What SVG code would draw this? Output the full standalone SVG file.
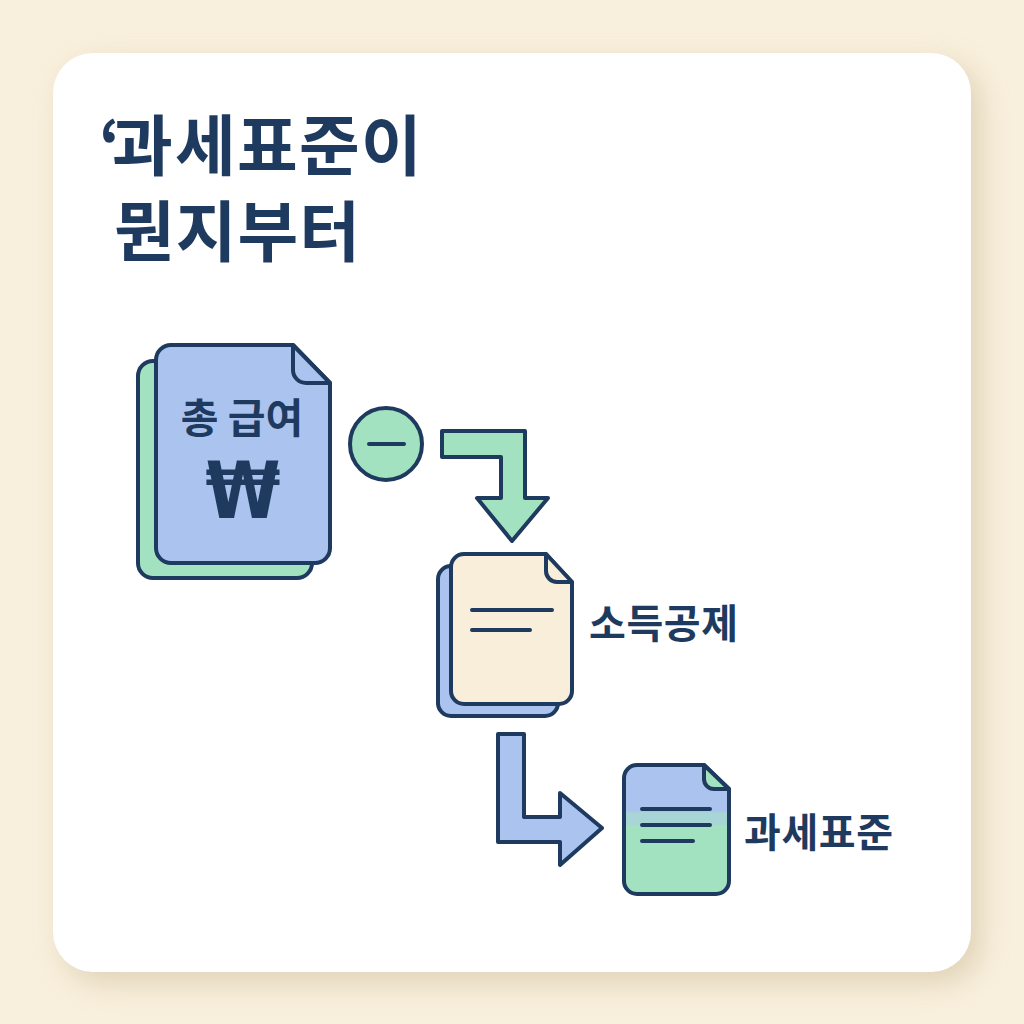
<svg xmlns="http://www.w3.org/2000/svg" width="1024" height="1024" viewBox="0 0 1024 1024">
<style>
text{font-family:"Noto Sans CJK KR","Noto Sans",sans-serif;fill:#1f3a5f;font-weight:700}
.o{stroke:#1f3a5f;stroke-width:4;stroke-linejoin:round;stroke-linecap:round}
.l{fill:none;stroke:#1f3a5f;stroke-width:4;stroke-linecap:round}
.b{fill:#aac4ef}.g{fill:#a3e2c1}.c{fill:#f8eed9}
</style>
<defs>
<filter id="s" x="-10%" y="-10%" width="120%" height="120%"><feGaussianBlur stdDeviation="14"/></filter>
<linearGradient id="split" x1="0" y1="765" x2="0" y2="894" gradientUnits="userSpaceOnUse">
<stop offset="0.36" stop-color="#aac4ef"/><stop offset="0.37" stop-color="#a8d6d6"/><stop offset="0.46" stop-color="#a8d6d6"/><stop offset="0.47" stop-color="#a3e2c1"/>
</linearGradient>
</defs>
<rect width="1024" height="1024" fill="#f8efdc"/>
<rect x="63" y="64" width="918" height="919" rx="40" fill="#d3c5a4" opacity=".65" filter="url(#s)"/>
<rect x="53" y="53" width="918" height="919" rx="40" fill="#fff"/>
<g id="title">
<text x="99 112 175 237 299 361" y="170" font-size="66">‘과세표준이</text>
<text x="114" y="256" font-size="66" textLength="246" lengthAdjust="spacing">뭔지부터</text>
</g>
<g id="connectors">
<path class="o g" d="M442 431H525V498H548L512 541L477 498H501V457H442Z"/>
<path class="o b" d="M498 734H524V817H560V793L602 828L560 865V842H498Z"/>
</g>
<g id="node-total">
<rect class="o g" x="138" y="361" width="174" height="217" rx="15"/>
<path class="o b" d="M171 345H293L330 383V548a15 15 0 0 1-15 15H171a15 15 0 0 1-15-15V360a15 15 0 0 1 15-15Z"/>
<path class="o b" d="M293 345V370a13 13 0 0 0 13 13H330Z"/>
<text x="242" y="433" font-size="41" text-anchor="middle">총 급여</text>
<text transform="translate(243 518) scale(1 1.16)" font-size="68" text-anchor="middle" style="font-family:'DejaVu Sans',sans-serif">₩</text>
</g>
<g id="node-minus">
<circle class="o g" cx="386" cy="444" r="36"/>
<path class="l" d="M369 444H404"/>
</g>
<g id="node-deduction">
<rect class="o b" x="438" y="566" width="120" height="150" rx="13"/>
<path class="o c" d="M464 554H546L572 582V691a13 13 0 0 1-13 13H464a13 13 0 0 1-13-13V567a13 13 0 0 1 13-13Z"/>
<path class="o c" d="M546 554V571a11 11 0 0 0 11 11H572Z"/>
<path class="l" d="M472 610H552M472 630H530"/>
<text x="589" y="638" font-size="40" textLength="149" lengthAdjust="spacing">소득공제</text>
</g>
<g id="node-taxbase">
<path class="o" fill="url(#split)" d="M637 765H704L729 789V881a13 13 0 0 1-13 13H637a13 13 0 0 1-13-13V778a13 13 0 0 1 13-13Z"/>
<path class="o g" d="M704 765V779a10 10 0 0 0 10 10H729Z"/>
<path class="l" d="M642 809H710M642 825H710M642 841H693"/>
<text x="744" y="847" font-size="40" textLength="149" lengthAdjust="spacing">과세표준</text>
</g>
</svg>
